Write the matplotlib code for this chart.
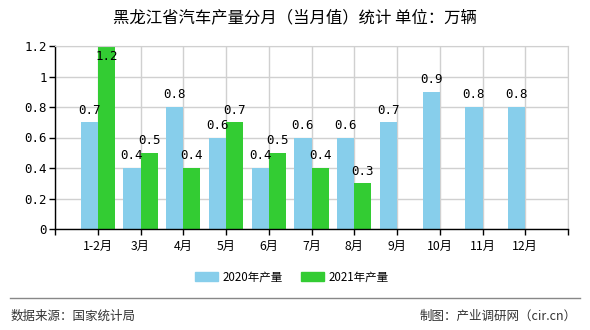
import matplotlib
matplotlib.use("Agg")
import matplotlib.pyplot as plt
from matplotlib.patches import Patch
from matplotlib.lines import Line2D

categories = ["1-2月", "3月", "4月", "5月", "6月", "7月", "8月", "9月", "10月", "11月", "12月"]
prod_2020 = [0.7, 0.4, 0.8, 0.6, 0.4, 0.6, 0.6, 0.7, 0.9, 0.8, 0.8]
prod_2021 = [1.2, 0.5, 0.4, 0.7, 0.5, 0.4, 0.3]
yticks = [0, 0.2, 0.4, 0.6, 0.8, 1.0, 1.2]
ytick_labels = ["0", "0.2", "0.4", "0.6", "0.8", "1", "1.2"]
series_names = ["2020年产量", "2021年产量"]
title = "黑龙江省汽车产量分月（当月值）统计 单位：万辆"
source = "数据来源：国家统计局"
maker = "制图：产业调研网（cir.cn）"

C20 = "#87CEEB"
C21 = "#33CC33"
CJK = ["Noto Sans CJK SC", "DejaVu Sans"]
MONO = ["DejaVu Sans Mono", "Noto Sans CJK SC"]

fig = plt.figure(figsize=(5.9, 3.3), dpi=100)
ax = fig.add_axes([55/590, 1-229/330, (568-55)/590, (229-46)/330])

w = 0.4
x20 = [i + 1 for i in range(len(prod_2020))]
x21 = [i + 1 for i in range(len(prod_2021))]
ax.bar([x - w/2 for x in x20], prod_2020, width=w, color=C20, zorder=2)
ax.bar([x + w/2 for x in x21], prod_2021, width=w, color=C21, zorder=2)

ymax = 1.2
def label(x, v):
    if v >= ymax - 0.05:
        ax.annotate(f"{v:g}", (x, v), xytext=(0, -3), textcoords="offset points",
                    ha="center", va="top", fontsize=9, family=MONO, zorder=3)
    else:
        ax.annotate(f"{v:g}", (x, v), xytext=(0, 4), textcoords="offset points",
                    ha="center", va="bottom", fontsize=9, family=MONO, zorder=3)

for x, v in zip(x20, prod_2020):
    label(x - w/2, v)
for x, v in zip(x21, prod_2021):
    label(x + w/2, v)

ax.set_xlim(0, 12)
ax.set_ylim(0, ymax)
ax.set_yticks(yticks)
ax.set_yticklabels(ytick_labels, family=MONO, fontsize=9)
ax.set_xticks(range(0, 13))
ax.set_xticklabels([""] + categories + [""], family=CJK, fontsize=8.8)
ax.grid(True, color="#d0d0d0", linewidth=1, zorder=0)
ax.set_axisbelow(True)
for s in ["top", "right"]:
    ax.spines[s].set_color("#d0d0d0")
for s in ["left", "bottom"]:
    ax.spines[s].set_color("black")
    ax.spines[s].set_linewidth(1)
ax.tick_params(axis="both", length=4, width=1, color="black", pad=2)
ax.tick_params(axis="x", pad=4)

fig.text(0.5, 1-18/330, title, ha="center", va="center", fontsize=11.8, family=CJK)

handles = [Patch(color=C20), Patch(color=C21)]
fig.legend(handles, series_names, loc="center", bbox_to_anchor=(292/590, 1-277/330),
           ncol=2, frameon=False, prop={"family": CJK, "size": 8.3},
           handlelength=2.0, handleheight=0.9, columnspacing=1.6, handletextpad=0.4)

fig.add_artist(Line2D([10/590, 580/590], [1-298/330, 1-298/330], color="#888888", lw=1))
fig.text(11/590, 1-316/330, source, ha="left", va="center", fontsize=9, family=CJK, color="#333333")
fig.text(577/590, 1-316/330, maker, ha="right", va="center", fontsize=9, family=CJK, color="#333333")

fig.savefig("out.png", dpi=100)
